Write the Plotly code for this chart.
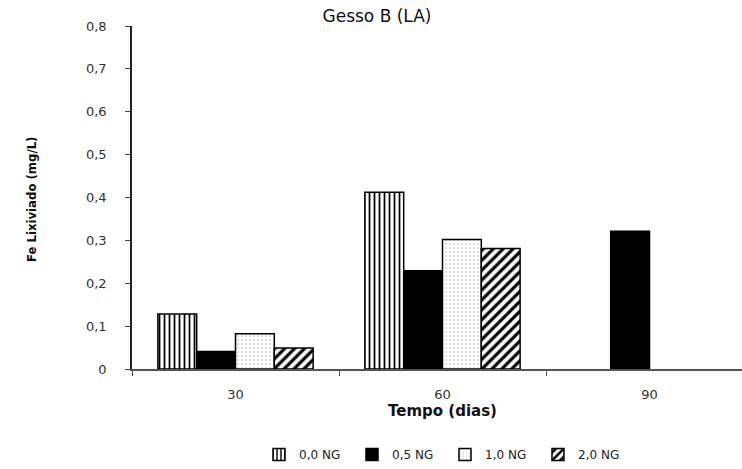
import plotly.graph_objects as go

# ---- data ----
categories = ["30", "60", "90"]
series_names = ["0,0 NG", "0,5 NG", "1,0 NG", "2,0 NG"]
s_00 = [0.128, 0.412, None]
s_05 = [0.041, 0.229, 0.321]
s_10 = [0.082, 0.302, None]
s_20 = [0.049, 0.281, None]
y_ticks = [0, 0.1, 0.2, 0.3, 0.4, 0.5, 0.6, 0.7, 0.8]

W, H = 742, 469
L, R, T, B = 132, 0, 26, 98

patterns = [
    dict(shape="|", size=5, solidity=0.35, fgcolor="black", bgcolor="white", fillmode="replace"),
    None,
    dict(shape=".", size=4, solidity=0.07, fgcolor="#666666", bgcolor="white", fillmode="replace"),
    dict(shape="/", size=7, solidity=0.45, fgcolor="black", bgcolor="white", fillmode="replace"),
]
series = [s_00, s_05, s_10, s_20]

fig = go.Figure()
for name, vals, pat in zip(series_names, series, patterns):
    marker = dict(line=dict(color="black", width=1.5))
    if pat is None:
        marker["color"] = "black"
    else:
        marker["color"] = "white"
        marker["pattern"] = pat
    fig.add_trace(go.Bar(name=name, x=categories, y=vals, marker=marker))

font_main = "DejaVu Sans, Arial, sans-serif"

fig.update_layout(
    width=W, height=H,
    margin=dict(l=L, r=R, t=T, b=B, pad=0),
    paper_bgcolor="white", plot_bgcolor="white",
    barmode="group", bargap=0.25, bargroupgap=0,
    separators=",.",
    font=dict(family=font_main, size=12, color="#333333"),
    title=dict(text="Gesso B (LA)", xref="container", x=377 / W, xanchor="center",
               yref="container", y=1 - 16 / H, yanchor="middle",
               font=dict(family=font_main, size=17, color="#111111")),
    legend=dict(orientation="h", xref="paper", x=(445 - L) / (W - L - R), xanchor="center",
                yref="paper", y=(371 - 457) / (371 - T), yanchor="middle",
                font=dict(family=font_main, size=12, color="#222222"),
                itemwidth=30, entrywidth=48, entrywidthmode="pixels",
                traceorder="normal", bgcolor="rgba(0,0,0,0)"),
    showlegend=True,
)

fig.update_xaxes(
    type="category", range=[-0.5, -0.5 + (W - L - R) / 207.0],
    showline=True, linecolor="#555555", linewidth=1.5,
    ticks="outside", tickson="boundaries", ticklen=5, tickcolor="#555555", tickwidth=1,
    ticklabelstandoff=13,
    tickfont=dict(family=font_main, size=13, color="#333333"),
    showgrid=False, zeroline=False,
)
fig.update_yaxes(
    range=[0, 0.8], tickvals=y_ticks,
    showline=True, linecolor="#222222", linewidth=1.5,
    ticks="outside", ticklen=5, tickcolor="#444444", tickwidth=1,
    ticklabelstandoff=16,
    tickfont=dict(family=font_main, size=13, color="#333333"),
    showgrid=False, zeroline=False,
)

fig.add_annotation(text="<b>Tempo (dias)</b>", xref="paper", yref="paper",
                   x=(442 - L) / (W - L - R), y=(371 - 413) / (371 - T),
                   xanchor="center", yanchor="middle", showarrow=False,
                   font=dict(family=font_main, size=15, color="#111111"))
fig.add_annotation(text="<b>Fe Lixiviado (mg/L)</b>", xref="paper", yref="paper",
                   x=(32 - L) / (W - L - R), y=(371 - 201) / (371 - T),
                   xanchor="center", yanchor="middle", textangle=-90, showarrow=False,
                   font=dict(family="DejaVu Sans Condensed, Liberation Sans Narrow, sans-serif",
                             size=13, color="#111111"))

fig.write_html("out.html")
